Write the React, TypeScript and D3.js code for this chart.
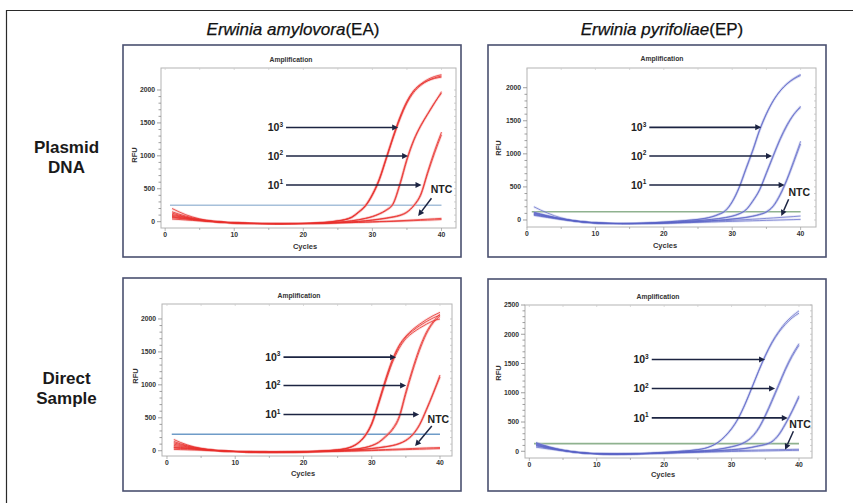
import React from 'react';
import * as d3 from 'd3';

// ---------- DATA ----------
const cycles = [1,2,3,4,5,6,7,8,9,10,11,12,13,14,15,16,17,18,19,20,21,22,23,24,25,26,27,28,29,30,31,32,33,34,35,36,37,38,39,40];

// Erwinia amylovora – plasmid DNA
const eaPlasmid_1e3_a = [200,150,105,70,42,22,8,-2,-10,-16,-20,-24,-26,-28,-30,-30,-31,-30,-29,-28,-26,-22,-15,-5,10,28,62,140,235,400,630,950,1280,1580,1820,1990,2090,2160,2205,2232];
const eaPlasmid_1e3_b = [150,115,85,58,36,18,6,-4,-12,-18,-22,-25,-27,-29,-30,-31,-31,-30,-29,-27,-24,-20,-13,-3,12,30,66,145,242,410,640,955,1270,1560,1800,1965,2070,2140,2185,2212];
const eaPlasmid_1e3_c = [95,78,60,42,26,13,3,-6,-13,-18,-22,-25,-27,-28,-29,-30,-30,-29,-28,-26,-23,-18,-11,-1,14,33,72,150,250,420,655,975,1300,1595,1830,1990,2085,2140,2175,2195];
const eaPlasmid_1e2_a = [130,100,72,48,28,14,3,-6,-13,-19,-23,-26,-28,-30,-31,-32,-32,-31,-30,-29,-27,-24,-20,-15,-8,0,12,28,48,75,115,170,265,560,930,1230,1450,1630,1800,1975];
const eaPlasmid_1e2_b = [80,66,52,37,23,11,1,-7,-14,-19,-23,-26,-28,-29,-30,-31,-31,-30,-30,-28,-26,-23,-19,-14,-7,2,14,30,52,80,122,180,280,590,960,1250,1465,1640,1810,1950];
const eaPlasmid_1e1_a = [110,88,65,44,27,13,2,-7,-14,-19,-23,-26,-28,-30,-31,-31,-31,-31,-30,-29,-27,-25,-22,-18,-14,-9,-3,5,15,26,40,56,75,100,150,250,420,760,1080,1360];
const eaPlasmid_1e1_b = [70,58,45,32,19,8,-1,-9,-15,-20,-24,-27,-29,-30,-31,-32,-32,-31,-30,-29,-28,-26,-23,-19,-15,-10,-4,3,12,22,35,50,68,92,140,240,400,730,1040,1320];
const eaPlasmid_ntc_a = [60,50,40,30,20,10,2,-6,-12,-17,-21,-24,-26,-28,-29,-30,-30,-29,-28,-27,-26,-24,-22,-20,-17,-14,-11,-8,-5,-2,2,6,10,15,20,26,32,38,44,50];
const eaPlasmid_ntc_b = [40,33,26,19,12,5,-1,-7,-12,-16,-20,-23,-25,-27,-28,-29,-29,-28,-28,-27,-26,-25,-23,-21,-19,-17,-14,-11,-8,-5,-2,1,4,8,12,16,20,24,28,32];

// Erwinia pyrifoliae – plasmid DNA
const epPlasmid_1e3_a = [200,150,105,65,32,5,-15,-30,-40,-46,-50,-52,-53,-53,-52,-50,-47,-43,-38,-32,-25,-18,-10,-2,8,22,45,80,135,270,480,760,1040,1350,1600,1800,1950,2060,2140,2200];
const epPlasmid_1e3_b = [110,85,60,38,18,0,-14,-26,-35,-42,-47,-50,-52,-52,-51,-49,-46,-42,-37,-31,-24,-17,-9,0,10,26,50,88,145,280,495,780,1060,1365,1610,1805,1950,2055,2130,2185];
const epPlasmid_1e2_a = [120,92,66,42,21,3,-12,-25,-35,-42,-47,-51,-53,-54,-54,-53,-51,-48,-44,-40,-35,-29,-22,-15,-8,0,10,22,38,60,95,155,290,460,720,980,1230,1440,1600,1720];
const epPlasmid_1e2_b = [95,74,54,34,16,0,-14,-26,-36,-43,-48,-51,-53,-54,-54,-53,-51,-48,-45,-41,-36,-30,-24,-17,-10,-2,8,20,35,56,90,150,280,450,700,960,1210,1420,1590,1700];
const epPlasmid_1e1_a = [105,82,60,39,20,3,-12,-25,-35,-42,-47,-51,-53,-54,-54,-54,-53,-51,-49,-46,-42,-38,-33,-28,-22,-16,-10,-3,5,15,26,40,60,86,125,215,390,620,900,1190];
const epPlasmid_1e1_b = [85,66,48,30,13,-2,-16,-28,-37,-44,-49,-52,-54,-55,-55,-54,-53,-51,-49,-46,-42,-38,-33,-28,-23,-17,-11,-4,4,14,24,37,55,80,118,205,370,600,870,1150];
const epPlasmid_ntc_a = [80,62,45,28,12,-3,-16,-28,-37,-44,-49,-52,-54,-55,-55,-54,-53,-51,-49,-47,-44,-41,-37,-33,-29,-24,-19,-14,-9,-4,1,6,12,18,24,31,38,45,52,60];
const epPlasmid_ntc_b = [70,54,38,22,7,-7,-19,-30,-38,-45,-50,-53,-55,-56,-56,-55,-54,-53,-51,-49,-47,-45,-42,-39,-36,-33,-30,-27,-24,-21,-18,-15,-12,-9,-6,-3,0,3,6,9];

// Erwinia amylovora – direct sample
const eaDirect_1e3_a = [170,125,88,58,36,20,8,0,-6,-10,-14,-17,-19,-20,-21,-21,-20,-19,-17,-14,-10,-6,-1,5,15,30,60,120,230,420,740,1080,1380,1600,1740,1840,1920,1990,2050,2100];
const eaDirect_1e3_b = [120,92,68,47,30,17,7,-1,-7,-11,-14,-17,-19,-20,-21,-21,-20,-19,-17,-15,-11,-7,-2,4,14,28,58,118,225,410,725,1060,1360,1580,1725,1820,1895,1960,2015,2060];
const eaDirect_1e3_c = [80,64,50,36,24,13,4,-3,-8,-12,-15,-18,-19,-20,-21,-21,-20,-19,-18,-15,-12,-8,-3,3,12,26,55,112,215,395,700,1030,1330,1550,1700,1790,1860,1920,1970,2000];
const eaDirect_1e2_a = [140,105,76,52,33,18,7,-1,-7,-12,-15,-18,-20,-21,-22,-22,-21,-20,-18,-16,-13,-10,-6,-1,5,12,20,30,50,80,130,220,330,520,900,1250,1560,1800,1960,2070];
const eaDirect_1e2_b = [60,50,40,30,20,11,3,-4,-9,-13,-16,-18,-20,-21,-22,-22,-21,-20,-19,-17,-14,-11,-7,-3,3,10,18,28,46,75,122,205,310,490,860,1210,1520,1770,1940,2040];
const eaDirect_1e1_a = [100,78,58,41,27,15,5,-2,-8,-12,-15,-18,-20,-21,-22,-22,-22,-21,-20,-18,-16,-13,-10,-6,-2,3,9,16,25,35,47,62,80,110,160,250,400,630,880,1150];
const eaDirect_1e1_b = [40,34,28,22,15,8,2,-4,-9,-13,-16,-18,-20,-21,-22,-22,-22,-21,-20,-19,-17,-15,-12,-8,-4,1,7,14,22,32,44,58,76,104,152,238,385,610,860,1120];
const eaDirect_ntc_a = [50,42,34,26,18,11,4,-2,-7,-11,-14,-17,-19,-20,-21,-21,-21,-20,-19,-18,-16,-14,-12,-10,-7,-4,-1,2,6,10,14,18,22,26,30,34,38,42,45,48];
const eaDirect_ntc_b = [20,17,14,11,8,4,0,-4,-8,-11,-14,-16,-18,-19,-20,-20,-20,-20,-19,-18,-17,-16,-14,-12,-10,-8,-6,-4,-1,2,5,8,11,14,17,20,23,26,29,32];

// Erwinia pyrifoliae – direct sample
const epDirect_1e3_a = [150,110,75,45,20,0,-15,-27,-36,-41,-44,-46,-46,-45,-43,-40,-36,-31,-25,-18,-11,-4,5,14,28,48,88,150,250,380,560,800,1080,1370,1640,1870,2050,2200,2310,2400];
const epDirect_1e3_b = [130,96,66,40,18,0,-14,-26,-35,-40,-44,-45,-46,-45,-43,-40,-36,-31,-25,-18,-11,-3,6,15,30,50,90,155,255,390,570,810,1085,1365,1625,1850,2030,2170,2280,2360];
const epDirect_1e2_a = [140,102,70,42,18,-2,-17,-28,-36,-41,-45,-47,-47,-46,-44,-42,-39,-35,-30,-25,-19,-13,-7,-1,5,12,20,35,55,80,110,160,250,400,620,880,1150,1420,1650,1840];
const epDirect_1e2_b = [100,76,53,32,13,-4,-18,-29,-37,-42,-45,-47,-47,-46,-44,-42,-39,-35,-30,-25,-20,-14,-8,-2,4,10,18,32,50,74,104,150,235,380,595,850,1120,1390,1620,1810];
const epDirect_1e1_a = [120,88,60,36,15,-3,-18,-29,-37,-42,-45,-47,-48,-47,-46,-44,-41,-38,-34,-30,-25,-20,-15,-10,-5,0,6,12,20,28,38,50,70,95,120,170,290,480,700,950];
const epDirect_1e1_b = [90,68,48,29,11,-5,-19,-30,-38,-43,-46,-48,-48,-47,-46,-44,-41,-38,-34,-30,-26,-21,-16,-11,-6,-1,4,10,17,25,34,46,64,88,112,160,275,460,680,920];
const epDirect_ntc_a = [110,80,55,32,12,-5,-19,-30,-38,-43,-46,-48,-48,-47,-46,-44,-41,-38,-35,-31,-27,-23,-19,-15,-11,-7,-3,1,5,9,12,15,18,21,24,26,28,30,32,34];
const epDirect_ntc_b = [70,53,37,22,8,-6,-19,-30,-38,-43,-46,-48,-49,-48,-47,-45,-43,-40,-37,-34,-31,-28,-25,-22,-19,-16,-13,-10,-7,-4,-2,0,2,4,6,8,10,12,14,16];

// tick labels / text
const xTicks = [0, 10, 20, 30, 40];
const yTicksStd = [0, 500, 1000, 1500, 2000];
const yTicksBR = [0, 500, 1000, 1500, 2000, 2500];
const columnTitles = [{ italic: 'Erwinia amylovora', plain: '(EA)' }, { italic: 'Erwinia pyrifoliae', plain: '(EP)' }];
const rowTitles = [['Plasmid', 'DNA'], ['Direct', 'Sample']];
const doseExponents = ['3', '2', '1'];
const thresholds = [250, 125, 250, 130];

// annotation anchor points in data units (cycle, RFU)
const annEaPlasmid = { rfu: [1430, 998, 557], start: 17.5, end: [33.73, 35.17, 37.11], ntcLabel: [40, 497], ntcFrom: [38.55, 355], ntcTo: [36.62, 87] };
const annEpPlasmid = { rfu: [1401, 967, 529], start: 17.88, end: [34.25, 35.82, 37.66], ntcLabel: [39.8, 419], ntcFrom: [38.25, 313], ntcTo: [37.18, 60] };
const annEaDirect = { rfu: [1420, 989, 550], start: 17.07, end: [33.57, 35.04, 36.94], ntcLabel: [39.77, 489], ntcFrom: [38.8, 374], ntcTo: [36.35, 71] };
const annEpDirect = { rfu: [1568, 1072, 570], start: 18.16, end: [34.97, 36.45, 38.34], ntcLabel: [40.16, 467], ntcFrom: [39.17, 342], ntcTo: [37.94, 27] };

// ---------- LAYOUT ----------
const FONT = "'Liberation Sans', Arial, Helvetica, sans-serif";
const RED = '#e8302c';
const BLUE = '#5a62c6';

const panels = [
  {
    id: 'tl', frame: [123, 45, 461, 257], plot: [161, 68, 456, 228], xDomain: [-0.6, 42.1], yDomain: [-96, 2334],
    yTicks: yTicksStd, color: RED, halo: '#f4a0a0', width: 1.0, opacity: 0.8, thrColor: '#a6c0da', threshold: thresholds[0],
    series: [eaPlasmid_ntc_a, eaPlasmid_ntc_b, eaPlasmid_1e1_a, eaPlasmid_1e1_b, eaPlasmid_1e2_a, eaPlasmid_1e2_b, eaPlasmid_1e3_a, eaPlasmid_1e3_b, eaPlasmid_1e3_c],
    ann: annEaPlasmid, title: [291, 62], rfu: [134, 155], cyc: [305, 249],
  },
  {
    id: 'tr', frame: [488, 45, 826, 257], plot: [527, 68, 816, 227], xDomain: [0, 42.25], yDomain: [-106, 2298],
    yTicks: yTicksStd, color: BLUE, halo: '#b8bce8', width: 0.9, opacity: 0.75, thrColor: '#8fb28f', threshold: thresholds[1],
    series: [epPlasmid_ntc_a, epPlasmid_ntc_b, epPlasmid_1e1_a, epPlasmid_1e1_b, epPlasmid_1e2_a, epPlasmid_1e2_b, epPlasmid_1e3_a, epPlasmid_1e3_b],
    ann: annEpPlasmid, title: [662, 61], rfu: [498, 148], cyc: [665, 248],
  },
  {
    id: 'bl', frame: [123, 278, 461, 491], plot: [162, 304, 452, 456], xDomain: [-0.73, 41.76], yDomain: [-80, 2227],
    yTicks: yTicksStd, color: RED, halo: '#f4a0a0', width: 1.0, opacity: 0.8, thrColor: '#6f9cc8', threshold: thresholds[2],
    series: [eaDirect_ntc_a, eaDirect_ntc_b, eaDirect_1e1_a, eaDirect_1e1_b, eaDirect_1e2_a, eaDirect_1e2_b, eaDirect_1e3_a, eaDirect_1e3_b, eaDirect_1e3_c],
    ann: annEaDirect, title: [299, 298], rfu: [135, 376], cyc: [303, 476],
  },
  {
    id: 'br', frame: [488, 279, 826, 491], plot: [525, 305, 812, 458], xDomain: [-0.64, 41.93], yDomain: [-115, 2500],
    yTicks: yTicksBR, color: BLUE, halo: '#b8bce8', width: 0.9, opacity: 0.75, thrColor: '#8fb28f', threshold: thresholds[3],
    series: [epDirect_ntc_a, epDirect_ntc_b, epDirect_1e1_a, epDirect_1e1_b, epDirect_1e2_a, epDirect_1e2_b, epDirect_1e3_a, epDirect_1e3_b],
    ann: annEpDirect, title: [658, 299], rfu: [498, 373], cyc: [663, 477],
  },
];

const ARROW = '#1c2442';

function Panel({ p }: { p: any }) {
  const [fx0, fy0, fx1, fy1] = p.frame;
  const [px0, py0, px1, py1] = p.plot;
  const x = d3.scaleLinear().domain(p.xDomain).range([px0, px1]);
  const y = d3.scaleLinear().domain(p.yDomain).range([py1, py0]);
  const line = d3.line<number>().x((_, i) => x(cycles[i])).y((v) => y(v)).curve(d3.curveMonotoneX);
  const yMax = p.yTicks[p.yTicks.length - 1];
  const minor = d3.range(0, yMax + 1, 100);
  const xMinor = d3.range(0, 41, 5);
  const a = p.ann;
  return (
    <g>
      <rect x={fx0} y={fy0} width={fx1 - fx0} height={fy1 - fy0} fill="#fff" stroke="#4a5070" strokeWidth={1.6} />
      <text x={p.title[0]} y={p.title[1]} textAnchor="middle" fontSize={6.8} fontWeight="bold" fill="#333">Amplification</text>
      <rect x={px0} y={py0} width={px1 - px0} height={py1 - py0} fill="#fff" stroke="#b4b4b4" strokeWidth={1} />
      {minor.map((v) => (
        <g key={'m' + v}>
          <line x1={px0 - (v % 500 === 0 ? 4 : 2.5)} x2={px0} y1={y(v)} y2={y(v)} stroke="#888" strokeWidth={0.8} />
          <line x1={px1} x2={px1 - 2} y1={y(v)} y2={y(v)} stroke="#bbb" strokeWidth={0.7} />
        </g>
      ))}
      {xMinor.map((v) => (
        <g key={'xm' + v}>
          <line x1={x(v)} x2={x(v)} y1={py1} y2={py1 + (v % 10 === 0 ? 3 : 2)} stroke="#999" strokeWidth={0.7} />
          <line x1={x(v)} x2={x(v)} y1={py0} y2={py0 + 2} stroke="#ccc" strokeWidth={0.7} />
        </g>
      ))}
      {p.yTicks.map((v: number) => (
        <text key={'yt' + v} x={px0 - 6} y={y(v) + 2.4} textAnchor="end" fontSize={6.8} fontWeight="bold" fill="#333">{v}</text>
      ))}
      {xTicks.map((v) => (
        <text key={'xt' + v} x={x(v)} y={py1 + 9} textAnchor="middle" fontSize={6.8} fontWeight="bold" fill="#333">{v}</text>
      ))}
      <text x={p.rfu[0]} y={p.rfu[1]} transform={`rotate(-90 ${p.rfu[0]} ${p.rfu[1]})`} textAnchor="middle" fontSize={7.5} fontWeight="bold" fill="#333" dy={2.5}>RFU</text>
      <text x={p.cyc[0]} y={p.cyc[1]} textAnchor="middle" fontSize={7.5} fontWeight="bold" fill="#333">Cycles</text>
      <line x1={x(0.7)} x2={x(40)} y1={y(p.threshold)} y2={y(p.threshold)} stroke={p.thrColor} strokeWidth={1.6} />
      {p.series.map((s: number[], i: number) => (
        <path key={'h' + i} d={line(s) || ''} fill="none" stroke={p.halo} strokeWidth={2.6} strokeOpacity={0.35} />
      ))}
      {p.series.map((s: number[], i: number) => (
        <path key={'s' + i} d={line(s) || ''} fill="none" stroke={p.color} strokeWidth={p.width} strokeOpacity={p.opacity} />
      ))}
      {a.rfu.map((r: number, i: number) => (
        <g key={'a' + i}>
          <line x1={x(a.start)} x2={x(a.end[i]) - 5} y1={y(r)} y2={y(r)} stroke={ARROW} strokeWidth={1.6} />
          <path d={`M${x(a.end[i])},${y(r)} l-6,-3 l0,6 z`} fill={ARROW} />
          <text x={x(a.start) - 3} y={y(r) + 3.8} textAnchor="end" fontSize={10.5} fontWeight="bold" fill="#222">
            10<tspan fontSize={6.5} dy={-4.5}>{doseExponents[i]}</tspan>
          </text>
        </g>
      ))}
      <text x={x(a.ntcLabel[0])} y={y(a.ntcLabel[1]) + 4} textAnchor="middle" fontSize={10.5} fontWeight="bold" fill="#222">NTC</text>
      <NtcArrow x1={x(a.ntcFrom[0])} y1={y(a.ntcFrom[1])} x2={x(a.ntcTo[0])} y2={y(a.ntcTo[1])} />
    </g>
  );
}

function NtcArrow({ x1, y1, x2, y2 }: { x1: number; y1: number; x2: number; y2: number }) {
  const ang = Math.atan2(y2 - y1, x2 - x1);
  const len = 6;
  const bx = x2 - Math.cos(ang) * len;
  const by = y2 - Math.sin(ang) * len;
  const nx = -Math.sin(ang) * 3;
  const ny = Math.cos(ang) * 3;
  return (
    <g>
      <line x1={x1} y1={y1} x2={bx} y2={by} stroke={ARROW} strokeWidth={1.5} />
      <path d={`M${x2},${y2} L${bx + nx},${by + ny} L${bx - nx},${by - ny} z`} fill={ARROW} />
    </g>
  );
}

export default function App() {
  return (
    <svg width={853} height={503} style={{ position: 'absolute', left: 0, top: 0, background: '#fff' }} fontFamily={FONT}>
      <rect x={0} y={0} width={853} height={503} fill="#fff" />
      <path d="M6.5,503 V10.5 H853" fill="none" stroke="#2a2a2a" strokeWidth={1.2} />
      <text x={293} y={35} textAnchor="middle" fontSize={17} fill="#111" stroke="#111" strokeWidth={0.25}>
        <tspan fontStyle="italic">{columnTitles[0].italic}</tspan>
        <tspan>{columnTitles[0].plain}</tspan>
      </text>
      <text x={662} y={35} textAnchor="middle" fontSize={17} fill="#111" stroke="#111" strokeWidth={0.25}>
        <tspan fontStyle="italic">{columnTitles[1].italic}</tspan>
        <tspan>{columnTitles[1].plain}</tspan>
      </text>
      <text x={66.5} y={153} textAnchor="middle" fontSize={17} fontWeight="bold" fill="#1a1a1a">{rowTitles[0][0]}</text>
      <text x={66.5} y={173} textAnchor="middle" fontSize={17} fontWeight="bold" fill="#1a1a1a">{rowTitles[0][1]}</text>
      <text x={66.5} y={384} textAnchor="middle" fontSize={17} fontWeight="bold" fill="#1a1a1a">{rowTitles[1][0]}</text>
      <text x={66.5} y={404} textAnchor="middle" fontSize={17} fontWeight="bold" fill="#1a1a1a">{rowTitles[1][1]}</text>
      {panels.map((p) => (
        <Panel key={p.id} p={p} />
      ))}
    </svg>
  );
}
